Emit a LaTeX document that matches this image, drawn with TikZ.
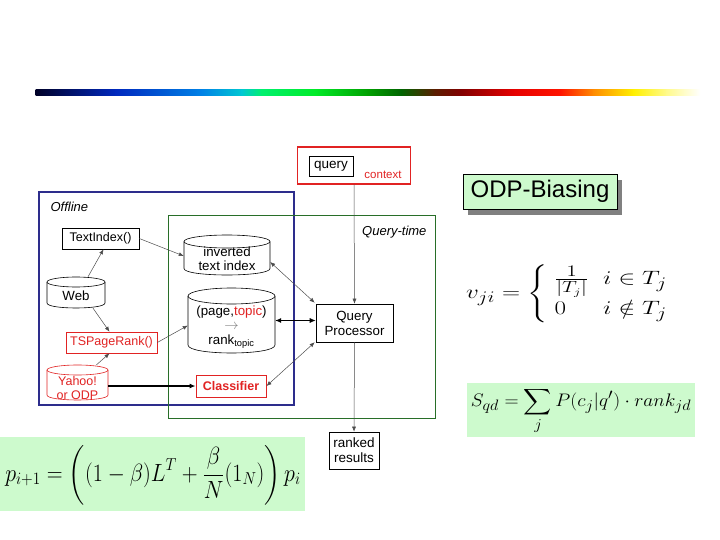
\documentclass[tikz,border=0pt]{standalone}
\usepackage{amsmath}
\usepackage{fontspec}
\setmainfont{Liberation Sans}
\usetikzlibrary{arrows.meta,shadows}
\definecolor{myred}{RGB}{225,35,35}
\definecolor{myblue}{RGB}{45,45,140}
\definecolor{mygreen}{RGB}{40,110,40}
\definecolor{lgreen}{RGB}{205,250,205}
\definecolor{g0}{RGB}{0,0,40}
\definecolor{g1}{RGB}{0,40,190}
\definecolor{g2}{RGB}{0,130,230}
\definecolor{g3}{RGB}{0,200,210}
\definecolor{g4}{RGB}{0,240,110}
\definecolor{g5}{RGB}{0,235,40}
\definecolor{g6}{RGB}{0,160,0}
\definecolor{g7}{RGB}{0,100,0}
\definecolor{g8}{RGB}{90,30,0}
\definecolor{g9}{RGB}{130,0,0}
\definecolor{g10}{RGB}{230,0,0}
\definecolor{g11}{RGB}{255,20,0}
\definecolor{g12}{RGB}{255,140,0}
\definecolor{g13}{RGB}{255,240,0}
\definecolor{g14}{RGB}{255,250,140}
\definecolor{g15}{RGB}{255,255,255}
% cylinder: name, cx, cy, w, h, ry, colour
\newcommand{\cylnode}[7]{%
  \node[minimum width=#4pt, minimum height=#5pt, inner sep=0] (#1) at (#2,#3) {};
  \draw[#7, line width=0.6pt, fill=white] ({#2-#4/2},{#3-#5/2+#6}) -- ({#2-#4/2},{#3+#5/2-#6})
     .. controls ({#2-#4/2},{#3+#5/2-#6+1.333*#6}) and ({#2+#4/2},{#3+#5/2-#6+1.333*#6}) .. ({#2+#4/2},{#3+#5/2-#6})
     -- ({#2+#4/2},{#3-#5/2+#6});
  \draw[#7, line width=0.6pt, fill=white] (#2,{#3-#5/2+#6}) ellipse [x radius=#4/2*1pt, y radius=#6*1pt];
}
\begin{document}
\begin{tikzpicture}[x=1pt,y=-1pt, font=\fontsize{12.5}{14}\selectfont,
  box/.style={draw, line width=0.6pt, fill=white, inner sep=0, align=center},
  sbox/.style={box, drop shadow={shadow xshift=1pt, shadow yshift=-1pt, fill=black!70, opacity=1}},
  arr/.style={-{Latex[length=5pt,width=4pt]}, draw=black!70, line width=0.5pt},
  darr/.style={{Latex[length=5pt,width=4pt]}-{Latex[length=5pt,width=4pt]}, draw=black!70, line width=0.5pt}]
\useasboundingbox (0,0) rectangle (720,540);

% gradient bar
\foreach \a/\b/\ca/\cb in {0/0.12/g0/g1, 0.12/0.25/g1/g2, 0.25/0.31/g2/g3, 0.31/0.34/g3/g4, 0.34/0.42/g4/g5,
  0.42/0.5/g5/g6, 0.5/0.55/g6/g7, 0.55/0.6/g7/g8, 0.6/0.64/g8/g9, 0.64/0.72/g9/g10, 0.72/0.79/g10/g11,
  0.79/0.84/g11/g12, 0.84/0.9/g12/g13, 0.9/0.95/g13/g14, 0.95/1.0/g14/g15}
  \shade[left color=\ca, right color=\cb] ({36+664*\a-0.3},90) rectangle ({36+664*\b+0.3},96);

% frames
\draw[myblue, line width=1.3pt] (39,192) rectangle (294,405);
\node[anchor=west, font=\fontsize{13}{15}\selectfont\itshape] (offl) at (47,207) {Offline};
\draw[mygreen, line width=1pt] (168,216) rectangle (435,418);
\node[anchor=east, font=\fontsize{13}{15}\selectfont\itshape] (qtime) at (430,232) {Query-time};

% context
\node[draw=myred, line width=1.5pt, minimum width=113pt, minimum height=37pt, inner sep=0] (ctx) at (354,165.5) {};
\node[sbox, minimum width=44pt, minimum height=20pt, font=\fontsize{13.5}{15}\selectfont] (query) at (331,166) {query};
\node[text=myred, font=\fontsize{11.5}{13}\selectfont] (ctxt) at (383,175) {context};

% nodes
\node[sbox, minimum width=77pt, minimum height=21pt] (TI) at (100.5,238.5) {TextIndex()};
\cylnode{inv}{227}{255}{86}{40}{6.5}{black}
\node[align=center, inner sep=0, font=\fontsize{13.3}{14}\selectfont] (invt) at (227,259) {inverted\\text index};
\cylnode{web}{76}{292.5}{58}{31}{5}{black}
\node[inner sep=0, font=\fontsize{13.3}{15}\selectfont] (webt) at (76,296) {Web};
\cylnode{PT}{231.5}{320.5}{87}{65}{8}{black}
\node[align=center, inner sep=0, font=\fontsize{13.3}{14.5}\selectfont] (ptt) at (231.5,327) {(page,\textcolor{myred}{topic})\\\textcolor{black!50}{$\rightarrow$}\\rank\textsubscript{topic}};
\node[sbox, minimum width=77pt, minimum height=38pt, font=\fontsize{13.3}{15}\selectfont] (QP) at (354.5,323) {Query\\Processor};
\node[box, draw=myred, text=myred, minimum width=91pt, minimum height=21pt] (TS) at (111.5,342.5) {TSPageRank()};
\cylnode{yah}{77.5}{382.5}{61}{35}{5}{myred}
\node[align=center, inner sep=0, text=myred] (yaht) at (77.5,388) {Yahoo!\\or ODP};
\node[box, draw=myred, text=myred, line width=1pt, minimum width=70pt, minimum height=22pt, font=\fontsize{12.5}{14}\selectfont\bfseries] (cl) at (231,386) {Classifier};
\node[sbox, minimum width=50pt, minimum height=37pt, font=\fontsize{13.5}{15}\selectfont] (rank) at (354,450.5) {ranked\\results};

% connectors
\draw[arr] (TI.east) -- ([yshift=-1pt]inv.west);
\draw[arr] ([xshift=12pt]web.north) -- ([xshift=3pt]TI.south);
\draw[arr] ([xshift=17pt]web.south) -- ([xshift=-2pt]TS.north);
\draw[arr] ([xshift=19pt]yah.north) -- ([xshift=-2pt]TS.south);
\draw[arr] (TS.east) -- ([yshift=-5pt]PT.west);
\draw[-{Latex[length=6pt,width=5pt]}, line width=1.1pt] (yah.east |- cl.west) -- (cl.west);
\draw[darr] ([yshift=-7pt]inv.east) -- ([xshift=-1pt,yshift=1pt]QP.north west);
\draw[{Latex[length=6pt,width=5pt]}-{Latex[length=6pt,width=5pt]}, line width=0.8pt] (PT.east) -- (PT.east -| QP.west);
\draw[darr] (cl.east) -- ([xshift=-1pt]QP.south west);
\draw[arr] (ctx.south) -- (QP.north);
\draw[arr] (QP.south) -- (rank.north);

% ODP-Biasing label
\fill[black!50] (468,180) rectangle (622,215);
\node[draw, fill=lgreen, line width=0.6pt, minimum width=154pt, minimum height=35pt, inner sep=0,
  font=\fontsize{24}{28}\selectfont] (odp) at (540,191.5) {ODP-Biasing};

% formulas
\node[inner sep=0] (vform) at (571,294) {\scalebox{1.45}[1.12]{\fontsize{19}{22}\selectfont
  $v_{ji}=\left\{\begin{array}{ll}\frac{1}{|T_j|} & i\in T_j\\[2pt] 0 & i\notin T_j\end{array}\right.$}};
\node[fill=lgreen, minimum width=228pt, minimum height=54pt, inner sep=0] (sbox) at (581,410) {};
\node[inner sep=0] (sform) at (581,411) {\scalebox{1.13}[1.05]{\fontsize{19}{22}\selectfont
  $\displaystyle S_{qd}=\sum_j P(c_j|q')\cdot rank_{jd}$}};
\node[fill=lgreen, minimum width=305pt, minimum height=74pt, inner sep=0] (pbox) at (152.5,474) {};
\node[inner sep=0] (pform) at (153,475) {\scalebox{1.06}[1.2]{\fontsize{21}{25}\selectfont
  $\displaystyle p_{i+1}=\left((1-\beta)L^T+\frac{\beta}{N}(1_N)\right)p_i$}};
\end{tikzpicture}
\end{document}
